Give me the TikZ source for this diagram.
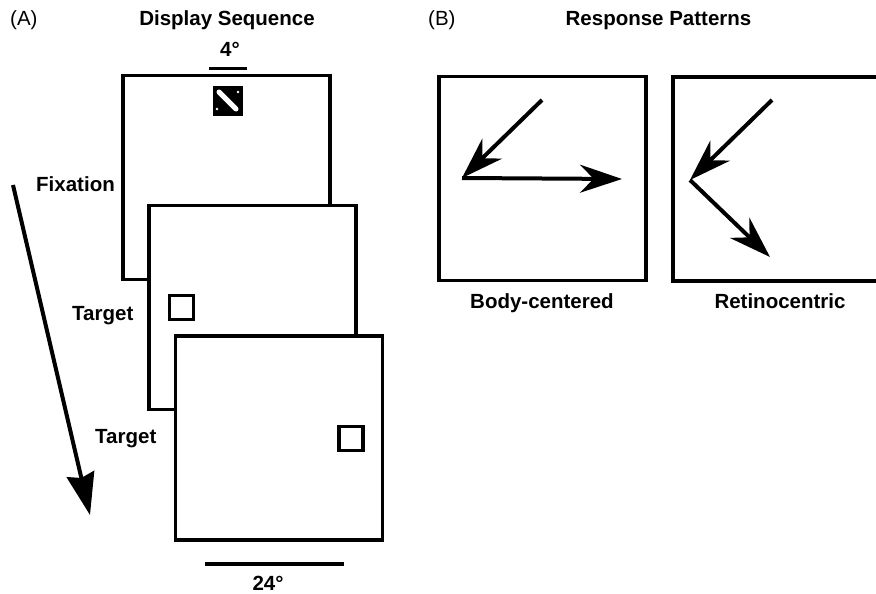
\documentclass[tikz,border=0pt]{standalone}
\usepackage{fontspec}
\setmainfont{Liberation Sans}
\usetikzlibrary{arrows.meta,positioning}
\tikzset{
  frame/.style={draw,fill=white,line width=3.5pt,minimum width=207pt,minimum height=204pt,inner sep=0pt},
  probe/.style={draw,line width=3.5pt,minimum size=24pt,inner sep=0pt},
  lab/.style={font=\fontsize{20.5}{24}\selectfont\bfseries,inner sep=0pt,anchor=base},
  panel/.style={font=\fontsize{20.5}{24}\selectfont,inner sep=0pt,anchor=base west},
  arr/.style={-{Stealth[length=42pt,width=28pt]},line width=4pt},
}

\begin{document}
\begin{tikzpicture}[x=1pt,y=-1pt]
\useasboundingbox (0,0) rectangle (876,594);
\clip (0,0) rectangle (876,594);
\fill[white] (0,0) rectangle (876,594);

% (A) the three screens, each one on top of the last
\node[panel] (pa) at (10,26) {(A)};
\node[lab] (dstitle) at (227,26) {Display Sequence};
\node[frame] (fix) at (226.5,177.5) {};
\node[frame] (tgt1) at (252.5,307.5) {};
\node[frame] (tgt2) at (279,438) {};

% fixation point
\node[fill=black,minimum size=30pt,inner sep=0pt] (fixpt) at (228,101) {};
\draw[white,line width=5pt,line cap=round] (219,92) -- (236,109);
\foreach \px/\py in {238/92,217/109} \fill[white] (\px,\py) circle (1.3);

% targets
\node[probe] (sq1) at (181.5,307.5) {};
\node[probe] (sq2) at (351,438.5) {};

\node[lab,anchor=base east] (lfix) at (115,191) {Fixation};
\node[lab,anchor=base west] (ltgt1) at (72,320) {Target};
\node[lab,anchor=base west] (ltgt2) at (95,443) {Target};

% scale bars
\node[lab] (four) at (230,57) {4°};
\draw[line width=3pt] (209,69) -- (247,69);
\node[lab] (tfour) at (268,590) {24°};
\draw[line width=4pt] (205,564) -- (344,564);

% time runs downwards
\coordinate (t0) at (13,185);
\coordinate (t1) at (90,515);
\draw[-{Stealth[length=42pt,width=28pt,inset=4pt]},line width=4pt] (t0) -- (t1);

% (B) the two kinds of response
\node[panel] (pb) at (428,26) {(B)};
\node[lab] (rptitle) at (658.5,26) {Response Patterns};
\node[frame] (body) at (542.5,178.5) {};
\node[frame] (retina) at (776.5,179) {};
\node[lab] (lbody) at (542,308) {Body-centered};
\node[lab] (lretina) at (780,308) {Retinocentric};

\coordinate (b0) at (542,100);
\coordinate (b1) at (462,178);
\coordinate (b2) at (622,179);
\draw[arr] (b0) -- (b1);
\draw[arr] (b1) -- (b2);

\coordinate (r0) at (772,100);
\coordinate (r1) at (690,180);
\coordinate (r2) at (770,257);
\draw[arr] (r0) -- (r1);
\draw[arr] (r1) -- (r2);
\end{tikzpicture}
\end{document}
